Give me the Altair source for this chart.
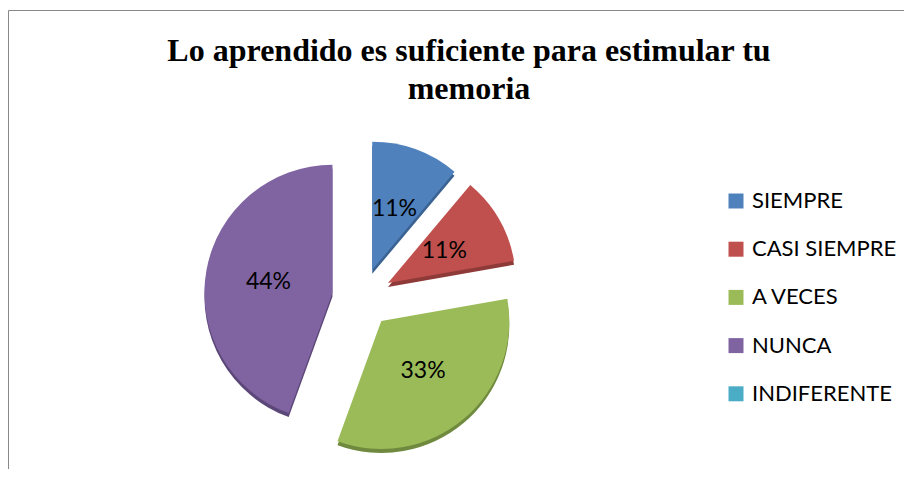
import altair as alt
import pandas as pd

categories = ["SIEMPRE", "CASI SIEMPRE", "A VECES", "NUNCA", "INDIFERENTE"]
values = [1, 1, 3, 4, 0]
labels = ["11%", "11%", "33%", "44%", ""]
colors = ["#4F81BD", "#C0504D", "#9BBB59", "#8064A2", "#4BACC6"]
dark_colors = ["#3A6292", "#8E3A38", "#6F8A3E", "#5C4878", "#34859B"]
title_lines = ["Lo aprendido es suficiente para estimular tu", "memoria"]

CX, CY, R, EXP, LR = 354, 290, 128, 30, 65

df = pd.DataFrame({
    "cat": categories,
    "value": values,
    "label": labels,
    "dark": dark_colors,
    "order": list(range(len(categories))),
})

base = (
    alt.Chart(df)
    .transform_window(cum="sum(value)", sort=[alt.SortField("order")], frame=[None, 0])
    .transform_joinaggregate(total="sum(value)")
    .transform_calculate(
        t0="2*PI*(datum.cum-datum.value)/datum.total",
        t1="2*PI*datum.cum/datum.total",
    )
    .transform_calculate(mid="(datum.t0+datum.t1)/2")
    .transform_calculate(
        cx=f"{CX}+{EXP}*sin(datum.mid)",
        cy=f"{CY}-{EXP}*cos(datum.mid)",
        lx=f"{CX}+{EXP + LR}*sin(datum.mid)",
        ly=f"{CY}-{EXP + LR}*cos(datum.mid)",
    )
    .transform_calculate(cy2="datum.cy+4")
)

side = base.mark_arc(outerRadius=R).encode(
    theta=alt.Theta("t0:Q", scale=None),
    theta2="t1:Q",
    x=alt.X("cx:Q", scale=None),
    y=alt.Y("cy2:Q", scale=None),
    fill=alt.Fill("dark:N", scale=None),
)

arcs = base.mark_arc(outerRadius=R).encode(
    theta=alt.Theta("t0:Q", scale=None),
    theta2="t1:Q",
    x=alt.X("cx:Q", scale=None),
    y=alt.Y("cy:Q", scale=None),
    color=alt.Color(
        "cat:N",
        scale=alt.Scale(domain=categories, range=colors),
        legend=alt.Legend(
            title=None,
            orient="none",
            legendX=717,
            legendY=182,
            symbolType="square",
            symbolSize=225,
            symbolStrokeWidth=0,
            labelFont="Lato",
            labelFontSize=22,
            labelColor="#000000",
            labelOffset=5,
            rowPadding=26.2,
        ),
    ),
)

text = base.mark_text(font="Lato", fontSize=23, color="#000000", baseline="middle", align="center").encode(
    x=alt.X("lx:Q", scale=None),
    y=alt.Y("ly:Q", scale=None),
    text="label:N",
)

title = alt.Chart(pd.DataFrame({"t": [0]})).mark_text(
    text=title_lines,
    font="Liberation Serif",
    fontWeight="bold",
    fontSize=32,
    lineHeight=38,
    align="center",
    baseline="middle",
    color="#000000",
).encode(x=alt.value(461), y=alt.value(43))

frame = alt.Chart(pd.DataFrame({"t": [0]})).mark_rect(
    filled=False, stroke="#888888", strokeWidth=1
).encode(x=alt.value(0.5), x2=alt.value(1000), y=alt.value(2.5), y2=alt.value(1000))

chart = (
    alt.layer(frame, side, arcs, text, title)
    .properties(width=896, height=461, padding=0, autosize=alt.AutoSizeParams(type="none"))
    .configure_view(stroke=None)
)

chart.save("out.html", embed_options={"renderer": "svg", "actions": False})
